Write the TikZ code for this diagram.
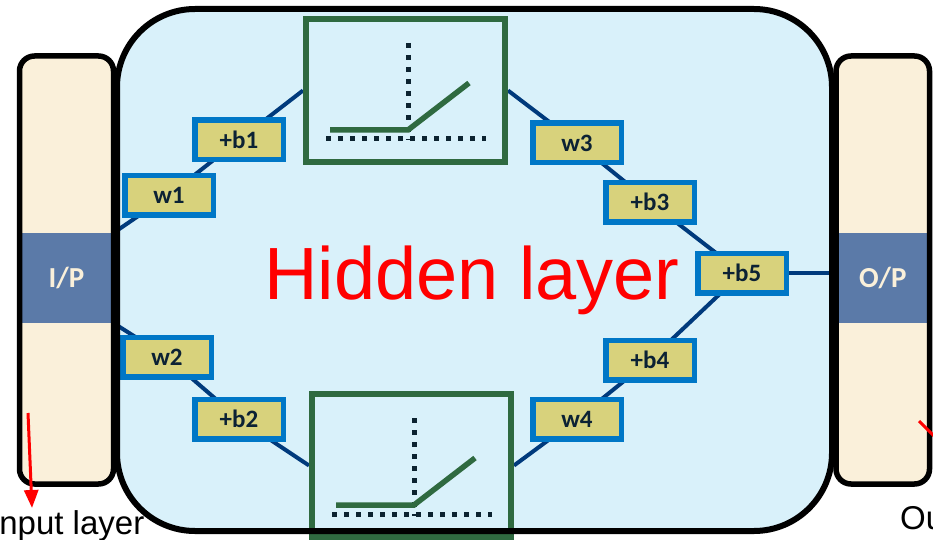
\documentclass[tikz,border=0pt]{standalone}
\usepackage{fontspec}
\setmainfont{Liberation Sans}
\newfontfamily\calfont{Carlito}
\usetikzlibrary{arrows.meta}
\definecolor{hidfill}{HTML}{D9F1FA}
\definecolor{panfill}{HTML}{FAF0DA}
\definecolor{bandcol}{HTML}{5B7AA8}
\definecolor{grn}{HTML}{2F6A40}
\definecolor{wire}{HTML}{003A7C}
\definecolor{lblfill}{HTML}{D8D27C}
\definecolor{lblline}{HTML}{0077C6}
\definecolor{ink}{HTML}{0C2234}
\definecolor{dots}{HTML}{0C2330}
\pgfdeclarelayer{bg}
\pgfdeclarelayer{wires}
\pgfsetlayers{bg,wires,main}
\begin{document}
\begin{tikzpicture}[x=1pt,y=-1pt,
 panelfill/.style={fill=panfill,rounded corners=15pt},
 panelline/.style={draw=black,line width=5.5pt,rounded corners=15pt},
 bandbox/.style={fill=bandcol,draw=none,minimum width=94pt,minimum height=90pt,inner sep=0pt,text=panfill,font=\calfont\bfseries\fontsize{29}{29}\selectfont},
 lbl/.style={draw=lblline,fill=lblfill,line width=5.5pt,minimum width=88.5pt,minimum height=39.5pt,inner sep=0pt,text=ink,font=\calfont\bfseries\fontsize{25}{25}\selectfont},
 actbox/.style={draw=grn,line width=6pt,fill=hidfill,minimum width=199pt,minimum height=143pt,inner sep=0pt},
 wirel/.style={draw=wire,line width=4pt},
 dotl/.style={draw=dots,line width=5pt,dash pattern=on 5pt off 7pt},
 relul/.style={draw=grn,line width=5.5pt},
 hidline/.style={draw=black,line width=6pt,rounded corners=78pt},
 redl/.style={draw=red,line width=3pt},
 captxt/.style={font=\fontsize{33}{33}\selectfont,text=black,inner sep=0pt,anchor=base west},
]
\useasboundingbox (0,0) rectangle (933,540);

% hidden layer fill
\begin{pgfonlayer}{bg}
\fill[hidfill,rounded corners=78pt] (117,9) rectangle (832,531);
\end{pgfonlayer}

% input panel
\fill[panelfill] (19.5,56) rectangle (113.5,484);
\node[bandbox] (ip) at (66.5,278) {I/P};
\draw[panelline] (19.5,56) rectangle (113.5,484);

% output panel
\fill[panelfill] (836,56) rectangle (929.5,484);
\node[bandbox,minimum width=93.5pt] (op) at (882.75,278) {O/P};
\draw[panelline] (836,56) rectangle (929.5,484);

% activation boxes
\node[actbox] (act1) at (405.5,90.5) {};
\node[actbox] (act2) at (411.5,465.5) {};
\foreach \a in {act1,act2}{
  \begin{scope}[shift={(\a.center)}]
    \draw[dotl] (2.5,-47.5) -- (2.5,50);
    \draw[dotl] (-79.5,48.5) -- (80,48.5);
    \draw[relul] (-75.5,39.5) -- (2.5,39.5) -- (63.5,-7.5);
  \end{scope}
}

% labels
\node[lbl] (b1) at (239,140) {+b1};
\node[lbl] (w1) at (169,195) {w1};
\node[lbl] (w2) at (167,357) {w2};
\node[lbl] (b2) at (239,419) {+b2};
\node[lbl] (w3) at (577,143) {w3};
\node[lbl] (b3) at (650,202) {+b3};
\node[lbl] (b5) at (742,273) {+b5};
\node[lbl] (b4) at (650,360) {+b4};
\node[lbl] (w4) at (577,419) {w4};

% wires
\begin{pgfonlayer}{wires}
\draw[wirel] (ip.north east) -- (w1.center) -- (b1.center) -- (act1.west);
\draw[wirel] (ip.south east) -- (w2.center) -- (b2.center) -- (act2.west);
\draw[wirel] (act1.east) -- (w3.center) -- (b3.center) -- (b5.center);
\draw[wirel] (act2.east) -- (w4.center) -- (b4.center) -- (b5.center);
\draw[wirel] (b5.center) -- (b5.center -| op.west);
\end{pgfonlayer}

% hidden layer border
\draw[hidline] (117,9) rectangle (832,531);

\node[font=\fontsize{74}{74}\selectfont,text=red,inner sep=0pt,anchor=base west] (hid) at (264,299) {Hidden layer};

% captions and arrows
\node[captxt] (inl) at (-10,534) {Input layer};
\node[captxt] (outl) at (900,529) {Output layer};
\coordinate (ia) at (28,413);
\coordinate (ib) at (32,508);
\draw[redl,-{Triangle[length=18pt,width=14pt]}] (ia) -- (ib);
\coordinate (oa) at (919,421);
\coordinate (ob) at (950,452);
\draw[redl] (oa) -- (ob);
\end{tikzpicture}
\end{document}
